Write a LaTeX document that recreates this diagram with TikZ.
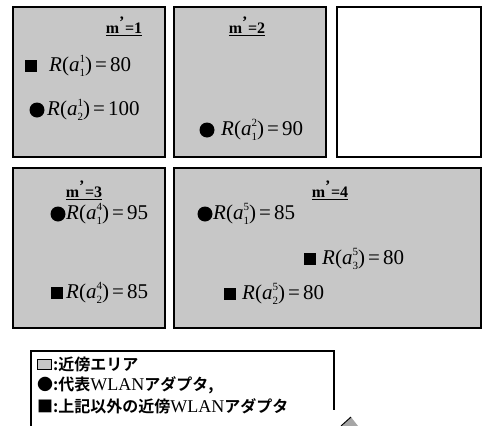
\documentclass[tikz,border=0pt]{standalone}
\usepackage{fontspec}
\setmainfont{Liberation Serif}
\newfontfamily\jpfont{Noto Sans CJK JP}[BoldFont={Noto Sans CJK JP Bold}]
\newcommand{\Rval}[3]{\textit{R}(\textit{a}\rlap{\raisebox{0.42em}{\fontsize{11}{11}\selectfont #2}}\raisebox{-0.22em}{\fontsize{11}{11}\selectfont #1})\hspace{0.15em}=\hspace{0.15em}#3}
\newcommand{\mtitle}[1]{\underline{\textbf{m}$^{\textbf{'}}$\textbf{=#1}}}
\newcommand{\wlan}{{\rmfamily\mdseries\fontsize{18}{18}\selectfont WLAN}}
\tikzset{
  area/.style={draw=black, line width=1.8pt, fill=black!22},
  emptyarea/.style={draw=black, line width=1.8pt, fill=white},
  rlabel/.style={anchor=west, inner sep=0pt, font=\fontsize{21}{21}\selectfont},
  ttl/.style={anchor=center, inner sep=0pt, font=\fontsize{16}{16}\selectfont},
  dotmark/.style={circle, fill=black, minimum size=15pt, inner sep=0pt},
  sqmark/.style={rectangle, fill=black, minimum size=12pt, inner sep=0pt},
  legtext/.style={anchor=west, inner sep=0pt, font=\fontsize{16}{16}\selectfont}
}
\begin{document}
\begin{tikzpicture}[x=1pt,y=-1pt]
\useasboundingbox (0,0) rectangle (483,426);
% areas
\draw[area] (13,7) rectangle (165,157);
\draw[area] (174,7) rectangle (326,157);
\draw[emptyarea] (337,7) rectangle (481,157);
\draw[area] (13,168) rectangle (165,328);
\draw[area] (174,168) rectangle (481,328);
% box 1
\node[ttl] (t1) at (124,26) {\mtitle{1}};
\node[sqmark] (s11) at (31,66) {};
\node[rlabel] (r11) at (49,66) {\Rval{1}{1}{80}};
\node[dotmark] (c12) at (37,110) {};
\node[rlabel] (r12) at (47,110) {\Rval{2}{1}{100}};
% box 2
\node[ttl] (t2) at (247,26) {\mtitle{2}};
\node[dotmark] (c21) at (207,130) {};
\node[rlabel] (r21) at (221,130) {\Rval{1}{2}{90}};
% box 3 (m'=3)
\node[ttl] (t3) at (84,190) {\mtitle{3}};
\node[dotmark] (c31) at (58,214) {};
\node[rlabel] (r31) at (66,214) {\Rval{1}{4}{95}};
\node[sqmark] (s32) at (57,293) {};
\node[rlabel] (r32) at (66,293) {\Rval{2}{4}{85}};
% box 4 (m'=4)
\node[ttl] (t4) at (330,190) {\mtitle{4}};
\node[dotmark] (c41) at (205,214) {};
\node[rlabel] (r41) at (213,214) {\Rval{1}{5}{85}};
\node[sqmark] (s43) at (310,259) {};
\node[rlabel] (r43) at (322,259) {\Rval{3}{5}{80}};
\node[sqmark] (s42) at (230,294) {};
\node[rlabel] (r42) at (242,294) {\Rval{2}{5}{80}};
% legend
\draw[line width=1.2pt] (31,426) -- (31,351) -- (334,351) -- (334,410);
\fill[black!35] (342,426) -- (351,417) -- (358,426) -- cycle;
\draw[line width=1pt] (341,426) -- (351,417);
\node[draw=black, line width=0.6pt, fill=black!22, minimum width=14pt, minimum height=10pt, inner sep=0pt] (sw) at (44,364) {};
\node[legtext] (l1) at (53,364) {\jpfont\bfseries :近傍エリア};
\node[legtext] (l2) at (37,385) {\jpfont\bfseries ●:代表\wlan アダプタ,};
\node[legtext] (l3) at (37,406) {\jpfont\bfseries ■:上記以外の近傍\wlan アダプタ};
\end{tikzpicture}
\end{document}
